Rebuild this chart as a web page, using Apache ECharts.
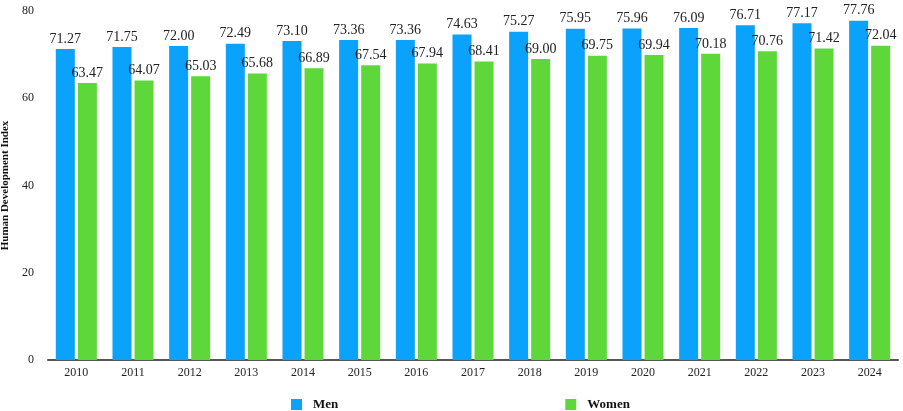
<!DOCTYPE html>
<html>
<head>
<meta charset="utf-8">
<script src="https://cdn.jsdelivr.net/npm/echarts@6/dist/echarts.min.js"></script>
<style>
    html, body {margin: 0; padding: 0; background: #fff;}
    #chart {width: 903px; height: 411px;}
</style>
</head>
<body>
<div id="chart"></div>
<script>
// 数据部分
var years = ['2010', '2011', '2012', '2013', '2014', '2015', '2016', '2017', '2018', '2019', '2020', '2021', '2022', '2023', '2024'];
var men = [71.27, 71.75, 72.00, 72.49, 73.10, 73.36, 73.36, 74.63, 75.27, 75.95, 75.96, 76.09, 76.71, 77.17, 77.76];
var women = [63.47, 64.07, 65.03, 65.68, 66.89, 67.54, 67.94, 68.41, 69.00, 69.75, 69.94, 70.18, 70.76, 71.42, 72.04];
var yTicks = [0, 20, 40, 60, 80];

var serif = '"Liberation Serif", "DejaVu Serif", serif';

var chart = echarts.init(document.getElementById('chart'));

// 柱子上方的数值标签
var labelStyle = {
    show: true,
    position: 'top',
    distance: 3,
    fontFamily: serif,
    fontSize: 14,
    color: '#222',
    formatter: function (p) {
        return p.value.toFixed(2);
    }
};

var option = {
    animation: false,
    grid: {left: 48, right: 5, top: 11, bottom: 51, containLabel: false, outerBoundsMode: 'none'},
    legend: {
        top: 393,
        left: 286,
        itemGap: 227,
        itemWidth: 11,
        itemHeight: 11,
        icon: 'rect',
        textStyle: {fontFamily: serif, fontSize: 13, fontWeight: 'bold', color: '#111', padding: [0, 0, 0, 6]},
        data: ['Men', 'Women']
    },
    xAxis: {
        type: 'category',
        data: years,
        axisLine: {lineStyle: {color: '#555', width: 2}},
        axisTick: {show: false},
        axisLabel: {fontFamily: serif, fontSize: 12, color: '#222', margin: 7}
    },
    yAxis: {
        type: 'value',
        min: yTicks[0],
        max: yTicks[yTicks.length - 1],
        interval: 20,
        name: 'Human Development Index',
        nameLocation: 'middle',
        nameGap: 31,
        nameTextStyle: {fontFamily: serif, fontSize: 11, fontWeight: 'bold', color: '#111'},
        axisLine: {show: false},
        axisTick: {show: false},
        splitLine: {show: false},
        axisLabel: {fontFamily: serif, fontSize: 12, color: '#222', margin: 14}
    },
    series: [{
        name: 'Men',
        type: 'bar',
        data: men,
        barWidth: 19,
        barGap: '16%',
        itemStyle: {color: '#0ba2fb'},
        label: labelStyle
    }, {
        name: 'Women',
        type: 'bar',
        data: women,
        barWidth: 19,
        itemStyle: {color: '#5dd73a'},
        label: labelStyle
    }]
};

chart.setOption(option);
</script>
</body>
</html>
